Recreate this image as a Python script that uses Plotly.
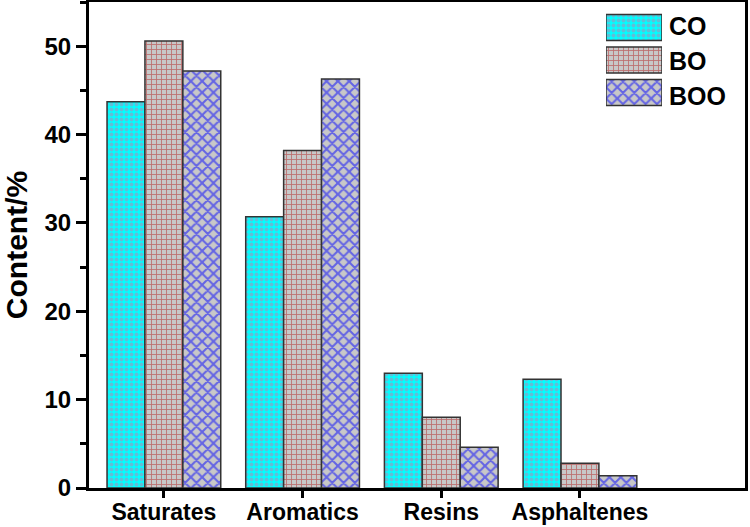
import plotly.graph_objects as go

categories = ["Saturates", "Aromatics", "Resins", "Asphaltenes"]
series_names = ["CO", "BO", "BOO"]
co_values = [43.7, 30.7, 13.0, 12.3]
bo_values = [50.6, 38.2, 8.0, 2.8]
boo_values = [47.2, 46.3, 4.6, 1.4]
y_ticks = [0, 10, 20, 30, 40, 50]

styles = {
    "CO": dict(shape=".", bgcolor="#00ffff", fgcolor="#c080b0", size=5, solidity=0.5),
    "BO": dict(shape="+", bgcolor="#c8c8c8", fgcolor="#b01010", size=5, solidity=0.3),
    "BOO": dict(shape="x", bgcolor="#c8c8c8", fgcolor="#0000ff", size=8, solidity=0.45),
}
values = {"CO": co_values, "BO": bo_values, "BOO": boo_values}

FONT = "Liberation Sans, Arial, sans-serif"
W, H = 750, 527
ml, mr, mt, mb = 89, 5, 2, 39
pw, ph = W - ml - mr, H - mt - mb

def xd(px):
    return (px - ml) / pw

def yd(py):
    return 1 - (py - mt) / ph

fig = go.Figure()
for name in series_names:
    fig.add_trace(go.Bar(
        x=categories, y=values[name], name=name,
        marker=dict(color=styles[name]["bgcolor"], pattern=styles[name],
                    line=dict(color="#333333", width=1.5)),
        showlegend=False,
    ))

# legend swatches drawn as bars on an inset axis
for i, name in enumerate(series_names):
    fig.add_trace(go.Bar(
        x=[1], y=[i], orientation="h", xaxis="x2", yaxis="y2", width=0.8,
        marker=dict(color=styles[name]["bgcolor"], pattern=styles[name],
                    line=dict(color="#333333", width=1.5)),
        showlegend=False, hoverinfo="skip",
    ))
    fig.add_annotation(x=xd(667), y=yd(26 + 35 * i), xref="paper", yref="paper",
                       text="<b>%s</b>" % name,
                       showarrow=False, xanchor="left", yanchor="middle",
                       font=dict(size=25, color="black", family=FONT))

fig.update_layout(
    width=W, height=H,
    margin=dict(l=ml, r=mr, t=mt, b=mb),
    plot_bgcolor="white", paper_bgcolor="white",
    barmode="group", bargap=0.18, bargroupgap=0,
    font=dict(family=FONT, color="black"),
    xaxis=dict(
        range=[-0.54, 4.19], showline=True, linecolor="black", linewidth=3,
        mirror=True, ticks="outside", ticklen=7, tickwidth=3, tickcolor="black",
        tickfont=dict(size=23, family=FONT, color="black"),
        tickvals=list(range(len(categories))),
        ticktext=["<b>%s</b>" % c for c in categories],
        ticklabelstandoff=-6,
        showgrid=False, zeroline=False, automargin=False,
    ),
    yaxis=dict(
        range=[0, 55], showline=True, linecolor="black", linewidth=3,
        mirror=True, ticks="outside", ticklen=10, tickwidth=3, tickcolor="black",
        tickvals=y_ticks, ticktext=["<b>%d</b>" % v for v in y_ticks],
        tickfont=dict(size=24, family=FONT, color="black"),
        minor=dict(ticks="outside", ticklen=6, tickwidth=3, tickcolor="black", dtick=5),
        showgrid=False, zeroline=False, automargin=False,
        title=dict(text="<b>Content/%</b>", font=dict(size=30, family=FONT, color="black"),
                   standoff=10),
    ),
    xaxis2=dict(domain=[xd(606), xd(662)], range=[0, 1], visible=False, anchor="y2"),
    yaxis2=dict(domain=[yd(112), yd(8)], range=[2.6, -0.6], visible=False, anchor="x2"),
)

fig.write_html("out.html", config={"displayModeBar": False},
               post_script="document.body.style.margin='0';")
